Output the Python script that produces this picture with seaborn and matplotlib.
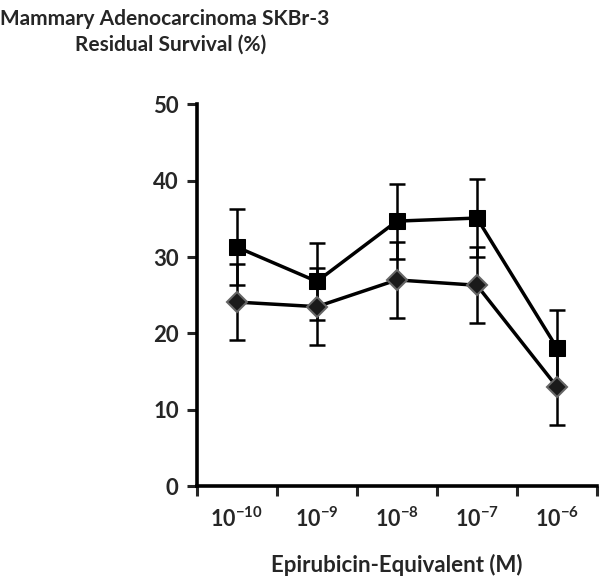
import numpy as np
import matplotlib.pyplot as plt
import pandas as pd
import seaborn as sns

# Data
doses = ["10$^{-10}$", "10$^{-9}$", "10$^{-8}$", "10$^{-7}$", "10$^{-6}$"]
square_mean = [31.3, 26.8, 34.7, 35.1, 18.1]
square_err = [5.0, 5.0, 4.9, 5.1, 4.9]
diamond_mean = [24.1, 23.5, 27.0, 26.3, 13.0]
diamond_err = [5.0, 5.0, 5.0, 5.0, 5.0]

sns.set_theme(style="ticks")
plt.rcParams["font.family"] = ["Lato", "DejaVu Sans"]
plt.rcParams["font.weight"] = "bold"
plt.rcParams["mathtext.fontset"] = "custom"
plt.rcParams["mathtext.rm"] = "Lato:bold"
plt.rcParams["mathtext.it"] = "Lato:bold"
plt.rcParams["mathtext.bf"] = "Lato:bold"

df = pd.DataFrame({
    "pos": list(range(len(doses))) * 2,
    "value": square_mean + diamond_mean,
    "err": square_err + diamond_err,
    "series": ["square"] * len(doses) + ["diamond"] * len(doses),
})

fig = plt.figure(figsize=(6, 5.76), dpi=100)
ax = fig.add_axes([0.328, 0.156, 0.667, 0.663])

# error bars first so markers sit on top
for name, sub in df.groupby("series"):
    ax.errorbar(sub["pos"], sub["value"], yerr=sub["err"], fmt="none",
                ecolor="black", elinewidth=1.8, capsize=6, capthick=1.8, zorder=2)

sns.lineplot(data=df, x="pos", y="value", hue="series", style="series",
             markers={"square": "s", "diamond": "D"}, dashes=False,
             palette={"square": "black", "diamond": "black"},
             markersize=11, linewidth=2.5, legend=False, ax=ax, zorder=3)
for line in ax.lines:
    if line.get_marker() == "D":
        line.set_markerfacecolor("#1a1a1a")
        line.set_markeredgecolor("#666666")
        line.set_markersize(10)
        line.set_markeredgewidth(1.5)
    elif line.get_marker() == "s":
        line.set_markeredgecolor("black")

ax.set_xlim(-0.5, len(doses) - 0.5)
ax.set_ylim(0, 50)
ax.set_yticks([0, 10, 20, 30, 40, 50])
ax.set_xticks(np.arange(-0.5, len(doses), 1.0))
ax.set_xticklabels([])
ax.set_xticks(range(len(doses)), minor=True)
ax.set_xticklabels(doses, minor=True)
ax.tick_params(axis="x", which="major", direction="out", length=7, width=2.2)
ax.tick_params(axis="x", which="minor", length=0, pad=15, labelsize=15.5)
ax.tick_params(axis="y", direction="out", length=7, width=2.2, labelsize=16, pad=6)
for lab in ax.get_yticklabels():
    lab.set_fontweight("bold")

sns.despine(ax=ax)
for side in ["left", "bottom"]:
    ax.spines[side].set_linewidth(2.6)
    ax.spines[side].set_color("black")

ax.set_xlabel("Epirubicin-Equivalent (M)", fontsize=16, fontweight="bold", labelpad=16)
ax.set_ylabel("")

fig.text(0.0, 0.985, "Mammary Adenocarcinoma SKBr-3", fontsize=15,
         fontweight="bold", ha="left", va="top")
fig.text(0.125, 0.94, "Residual Survival (%)", fontsize=15,
         fontweight="bold", ha="left", va="top")

fig.savefig("out.png", dpi=100)
